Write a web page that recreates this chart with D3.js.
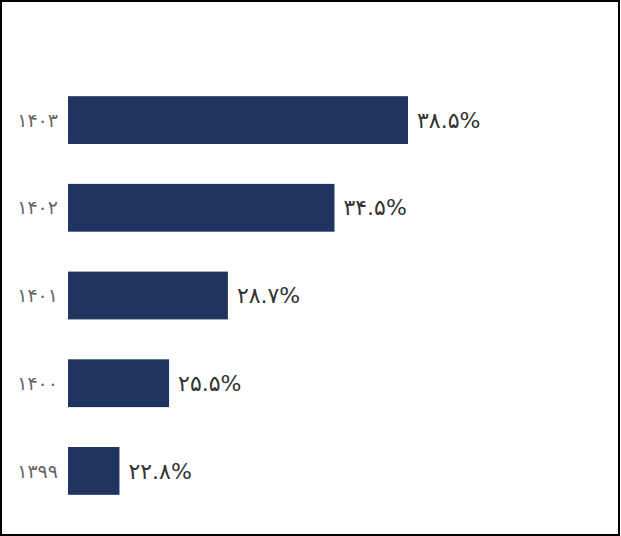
<!DOCTYPE html>
<html>
<head>
<meta charset="utf-8">
<script src="https://d3js.org/d3.v7.min.js"></script>
<style>
body { margin: 0; background: #fff; }
</style>
</head>
<body>
<div id="plot"></div>
<script>
var years = ["۱۴۰۳", "۱۴۰۲", "۱۴۰۱", "۱۴۰۰", "۱۳۹۹"];
var values = [38.5, 34.5, 28.7, 25.5, 22.8];
var valueLabels = ["۳۸.۵%", "۳۴.۵%", "۲۸.۷%", "۲۵.۵%", "۲۲.۸%"];

var width = 621, height = 536;
var svg = d3.select("#plot").append("svg")
  .attr("width", width).attr("height", height);

// frame
svg.append("rect").attr("x", 1).attr("y", 1)
  .attr("width", 618).attr("height", 534)
  .attr("fill", "none").attr("stroke", "#000").attr("stroke-width", 2);

var x = d3.scaleLinear().domain([20, 38.5]).range([68, 408]);
var y = d3.scaleBand().domain(years).range([76, 515]).paddingInner(0.455).paddingOuter(0.23);

svg.selectAll("rect.bar").data(values).enter().append("rect")
  .attr("class", "bar")
  .attr("x", x(20))
  .attr("y", (d, i) => y(years[i]))
  .attr("width", d => x(d) - x(20))
  .attr("height", y.bandwidth())
  .attr("fill", "#1f3560");

svg.selectAll("text.cat").data(years).enter().append("text")
  .attr("class", "cat")
  .attr("x", 58)
  .attr("y", d => y(d) + y.bandwidth() / 2)
  .attr("dy", "0.35em")
  .attr("text-anchor", "end")
  .attr("font-family", "DejaVu Sans")
  .attr("font-size", 19)
  .attr("fill", "#666")
  .text(d => d);

svg.selectAll("text.val").data(values).enter().append("text")
  .attr("class", "val")
  .attr("x", d => x(d) + 9)
  .attr("y", (d, i) => y(years[i]) + y.bandwidth() / 2)
  .attr("dy", "0.35em")
  .attr("font-family", "DejaVu Sans")
  .attr("font-size", 22)
  .attr("fill", "#333")
  .text((d, i) => valueLabels[i]);
</script>
</body>
</html>
